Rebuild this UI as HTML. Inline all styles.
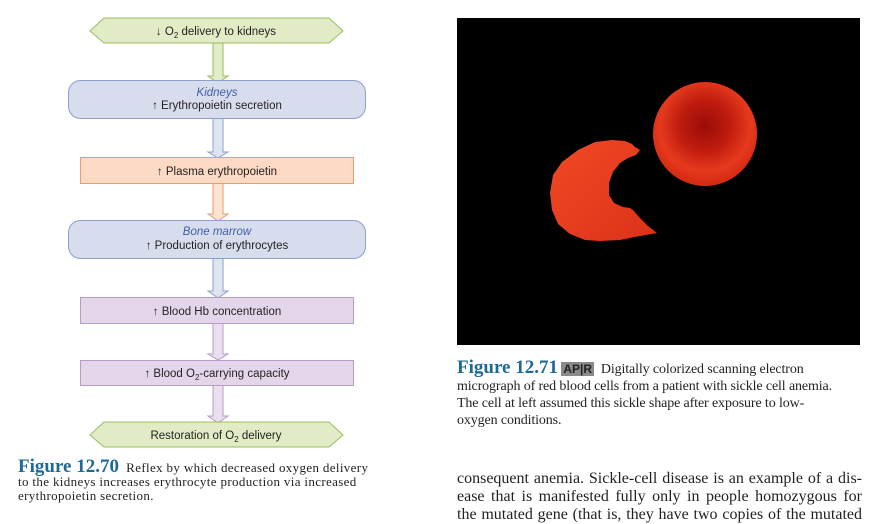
<!DOCTYPE html>
<html><head><meta charset="utf-8"><style>
body{margin:0;width:870px;height:521px;background:#fff;position:relative;overflow:hidden;font-family:"Liberation Sans",sans-serif}
.cap{position:absolute;font-family:"Liberation Serif",serif;color:#231f20;white-space:nowrap}
.fig{color:#1d6a96;font-weight:bold;font-size:19px;letter-spacing:0}
</style></head><body>
<svg width="870" height="521" style="position:absolute;left:0;top:0" font-family="Liberation Sans, sans-serif" font-size="11.5">
<defs>
<radialGradient id="rc" cx="0.5" cy="0.42" r="0.55"><stop offset="0" stop-color="#9a0c08"/><stop offset="0.45" stop-color="#c01c0e"/><stop offset="0.8" stop-color="#e63a1e"/><stop offset="1" stop-color="#d62c14"/></radialGradient>
<linearGradient id="sc" x1="0" y1="0" x2="1" y2="1"><stop offset="0" stop-color="#f04a24"/><stop offset="1" stop-color="#dc311a"/></linearGradient>
</defs>
<g>
<polygon points="213,43 223,43 223,76 228,76 218,83 208,76 213,76" fill="#e3ecc8" stroke="#9cbd5a"/>
<polygon points="213,118 223,118 223,152 228,152 218,158 208,152 213,152" fill="#dfe4f1" stroke="#8f9fcc"/>
<polygon points="213,183 223,183 223,214 228,214 218,221 208,214 213,214" fill="#fde3d2" stroke="#f19a6a"/>
<polygon points="213,258 223,258 223,291 228,291 218,298 208,291 213,291" fill="#dfe4f1" stroke="#8f9fcc"/>
<polygon points="213,323 223,323 223,354 228,354 218,360 208,354 213,354" fill="#eadfee" stroke="#b79cc6"/>
<polygon points="213,385 223,385 223,416 228,416 218,423 208,416 213,416" fill="#eadfee" stroke="#b79cc6"/>
</g>
<polygon points="90,31 104,18 329,18 343,31 329,43 104,43" fill="#e1ebc6" stroke="#9cbd5a"/>
<text x="216" y="35" text-anchor="middle" fill="#231f20">↓ O<tspan font-size="8" dy="3">2</tspan><tspan dy="-3"> delivery to kidneys</tspan></text>
<rect x="68.5" y="80.5" width="297" height="38" rx="12" fill="#d8dded" stroke="#8f9fcc"/>
<text x="217" y="96" text-anchor="middle" fill="#3e5fa8" font-style="italic">Kidneys</text>
<text x="217" y="109" text-anchor="middle" fill="#231f20">↑ Erythropoietin secretion</text>
<rect x="80.5" y="157.5" width="273" height="26" fill="#fbd9c3" stroke="#f19a6a"/>
<text x="217" y="175" text-anchor="middle" fill="#231f20">↑ Plasma erythropoietin</text>
<rect x="68.5" y="220.5" width="297" height="38" rx="12" fill="#d8dded" stroke="#8f9fcc"/>
<text x="217" y="235" text-anchor="middle" fill="#3e5fa8" font-style="italic">Bone marrow</text>
<text x="217" y="249" text-anchor="middle" fill="#231f20">↑ Production of erythrocytes</text>
<rect x="80.5" y="297.5" width="273" height="26" fill="#e4d6ea" stroke="#b79cc6"/>
<text x="217" y="315" text-anchor="middle" fill="#231f20">↑ Blood Hb concentration</text>
<rect x="80.5" y="360.5" width="273" height="25" fill="#e4d6ea" stroke="#b79cc6"/>
<text x="217" y="377" text-anchor="middle" fill="#231f20">↑ Blood O<tspan font-size="8" dy="3">2</tspan><tspan dy="-3">-carrying capacity</tspan></text>
<polygon points="90,435 104,422 329,422 343,435 329,447 104,447" fill="#e1ebc6" stroke="#9cbd5a"/>
<text x="216" y="439" text-anchor="middle" fill="#231f20">Restoration of O<tspan font-size="8" dy="3">2</tspan><tspan dy="-3"> delivery</tspan></text>
<rect x="457" y="18" width="403" height="327" fill="#000"/>
<circle cx="705" cy="134" r="52" fill="url(#rc)"/>
<polygon points="550,193 553,175 562,162 578,150 595,142 612,140 625,141 632,144 635,147 640,150 636,155 628,158 620,163 613,172 609,183 609,195 614,203 623,207 630,208 633,210 640,218 648,226 657,233 640,236 620,240 600,241 585,240 570,234 558,224 552,210" fill="url(#sc)"/>
</svg>
<div class="cap" style="left:18px;top:460px;font-size:13px;line-height:14px;letter-spacing:0.35px"><span class="fig">Figure 12.70</span>&nbsp; Reflex by which decreased oxygen delivery<br>to the kidneys increases erythrocyte production via increased<br>erythropoietin secretion.</div>
<div class="cap" style="left:457px;top:359px;font-size:14px;line-height:17px;letter-spacing:-0.12px"><span class="fig">Figure 12.71</span> <span style="font-family:'Liberation Sans',sans-serif;font-weight:bold;font-size:12px;background:#8a8a8a;color:#222;padding:0 2px;letter-spacing:0">AP|R</span>&nbsp; Digitally colorized scanning electron<br>micrograph of red blood cells from a patient with sickle cell anemia.<br>The cell at left assumed this sickle shape after exposure to low-<br>oxygen conditions.</div>
<div class="cap" style="left:457px;top:470px;font-size:16px;line-height:18px;width:405px">
<div style="text-align:justify;text-align-last:justify;white-space:normal">consequent anemia. Sickle-cell disease is an example of a dis-</div>
<div style="text-align:justify;text-align-last:justify;white-space:normal">ease that is manifested fully only in people homozygous for</div>
<div style="text-align:justify;text-align-last:justify;white-space:normal">the mutated gene (that is, they have two copies of the mutated</div>
</div>
</body></html>
